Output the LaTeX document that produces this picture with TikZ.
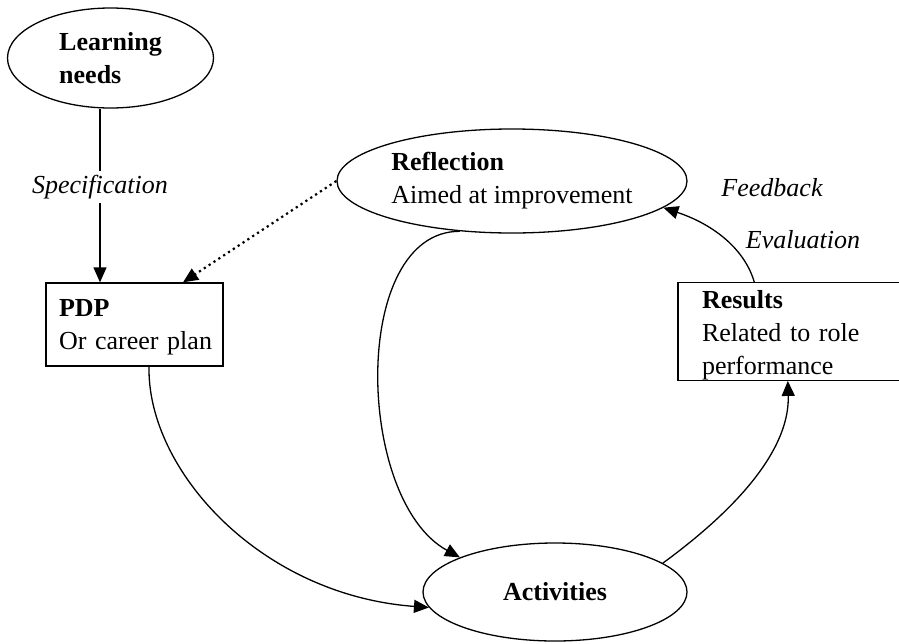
\documentclass[tikz,border=0pt]{standalone}
\usepackage{fontspec}
\setmainfont{Liberation Serif}
\usetikzlibrary{shapes.geometric,arrows.meta}
\begin{document}
\begin{tikzpicture}[x=1pt,y=-1pt,
  every node/.style={font=\fontsize{26pt}{33pt}\selectfont},
  ell/.style={draw,ellipse,line width=1.3pt,inner sep=0pt,align=left},
  box/.style={draw,rectangle,line width=1.3pt,inner ysep=0pt,align=left},
  arr/.style={line width=1.3pt,-{Triangle[length=15pt,width=13pt]}},
  dotline/.style={line width=2.2pt,dash pattern=on 2.2pt off 3.6pt,-{Triangle[length=15pt,width=13pt]}},
  lbl/.style={font=\fontsize{26pt}{33pt}\selectfont\itshape}]
\useasboundingbox (0,0) rectangle (899,643);
\fill[white] (0,0) rectangle (899,643);
\node[ell,minimum width=206pt,minimum height=100pt] (learn) at (110.5,58) {\textbf{Learning}\\\textbf{needs}};
\node[ell,minimum width=350pt,minimum height=104pt] (refl) at (512,181) {\textbf{Reflection}\\Aimed at improvement};
\node[ell,minimum width=264pt,minimum height=98pt] (act) at (555,592) {\textbf{Activities}};
\node[box,text width=151pt,inner xsep=13pt,minimum height=83pt] (pdp) at (134.5,324.5) {\rule{0pt}{23pt}\textbf{PDP}\\\mbox{Or career plan}};
\node[box,text width=200pt,inner xsep=24pt,minimum height=97pt] (res) at (802,331.5) {\rule{0pt}{26pt}\textbf{Results}\\Related to role\\performance};
\node[lbl,anchor=base] (fb) at (772,196) {Feedback};
\node[lbl,anchor=base] (ev) at (803,248) {Evaluation};
\coordinate (ls) at ([xshift=-10.5pt]learn.south);
\draw[arr] (ls) -- (ls |- pdp.north) node[lbl,pos=0.45,fill=white,inner xsep=1pt,inner ysep=4pt] (spec) {Specification};
\draw[dotline] (refl.west) -- (pdp.41);
\draw[arr] (refl.224) .. controls (350,231) and (355,500) .. (act.160);
\draw[arr] (pdp.289) .. controls (147,470) and (260,595) .. (act.187);
\draw[arr] (act.15) .. controls (715,525) and (790,460) .. (res.254);
\draw[arr] (res.134) .. controls (745,250) and (715,225) .. (refl.350);
\end{tikzpicture}
\end{document}
